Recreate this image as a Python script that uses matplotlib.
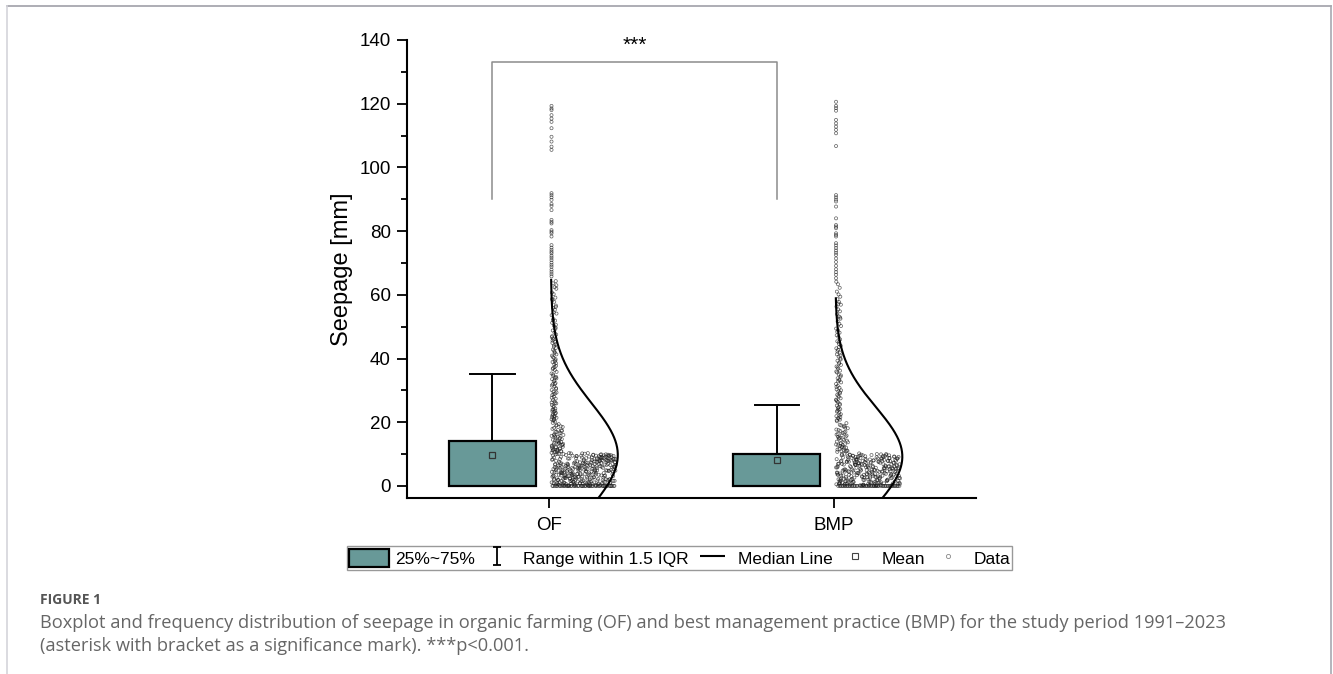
import numpy as np
import matplotlib
matplotlib.use('Agg')
import matplotlib.pyplot as plt
from matplotlib.patches import Patch
from matplotlib.lines import Line2D
from matplotlib.path import Path

# ---- data ----
groups = ['OF', 'BMP']
q1 = [0.0, 0.0]
q3 = [14.2, 10.1]
whisk_lo = [0.0, 0.0]
whisk_hi = [35.2, 25.3]
medians = [0.0, 0.0]
means = [9.7, 8.2]

# fitted normal curve (centre, spread, top end of drawn curve)
curve_mu = [9.7, 9.2]
curve_sd = [16.3, 15.5]
curve_top = [64.7, 58.9]

# individual seepage values (mm)
of_tail = [119.3, 118.5, 118.0, 116.4, 115.3, 114.3, 112.3, 109.6, 108.1, 106.5, 105.5,
           91.9, 91.3, 90.6, 89.8, 88.5, 87.9, 86.6, 83.5, 82.9, 82.4, 80.3, 79.8, 79.3, 78.3,
           75.6, 74.8, 74.1, 73.5, 73.0, 72.2, 71.6, 70.9, 70.1, 69.4, 68.8, 67.9, 67.2, 66.5, 65.8]
of_col = [64.3, 63.6, 62.4, 61.9, 60.7, 60.2, 59.1, 58.3, 57.8, 56.6, 55.9, 55.3, 54.1, 53.6,
          52.4, 51.9, 51.2, 50.3, 49.7, 48.8, 48.1, 47.5, 46.7, 46.0, 45.2, 44.9, 44.1, 43.3,
          42.8, 42.0, 41.3, 40.9, 40.2, 39.4, 38.9, 38.1, 37.7, 37.0, 36.4, 35.8, 35.3, 34.6,
          34.0, 33.5, 32.8, 32.3, 31.9, 31.2, 30.7, 30.1, 29.6, 29.0, 28.5, 28.0, 27.4, 26.9,
          26.5, 25.9, 25.4, 24.8, 24.3, 23.9, 23.3, 22.9, 22.4, 21.8, 21.4, 20.9, 20.5, 20.2,
          47.0, 43.7, 39.8, 36.7, 33.1, 30.4, 27.7, 25.1, 23.6, 22.1, 21.1, 56.2, 52.0, 41.7,
          63.0, 58.7, 54.5, 49.3, 45.6, 42.4, 38.5, 35.0, 32.0, 29.3, 26.2, 24.0, 22.7, 21.6,
          20.7, 44.5, 40.5, 37.3, 34.2, 31.5, 28.8, 26.0, 23.4, 21.9, 50.6, 46.3, 39.1, 33.8]
of_mid = [19.8, 19.1, 18.7, 18.2, 17.6, 17.3, 16.9, 16.4, 16.0, 15.7, 15.2, 14.9, 14.5, 14.1,
          13.8, 13.4, 13.1, 12.8, 12.4, 12.1, 11.8, 11.5, 11.2, 10.9, 10.7, 19.4, 18.5, 17.9,
          17.0, 16.6, 15.9, 15.4, 14.7, 14.3, 13.6, 13.2, 12.6, 12.2, 11.7, 11.3, 11.0, 10.8,
          16.2, 14.0, 12.9, 11.9, 18.9, 15.1, 13.0, 11.4, 17.4, 15.6, 13.5, 12.3, 11.1, 10.6]
of_core = [0.3, 5.2, 8.7, 1.9, 3.4, 9.8, 6.1, 0.8, 2.7, 7.5, 4.4, 10.2, 1.3, 6.8, 3.9, 8.1, 0.5,
           5.7, 9.3, 2.2, 7.0, 4.9, 1.6, 8.9, 3.1, 6.4, 0.9, 9.9, 5.5, 2.8, 7.8, 4.1, 1.1, 6.6,
           10.4, 3.6, 8.4, 0.4, 5.0, 9.1, 2.5, 7.3, 4.7, 1.8, 6.0, 8.6, 3.3, 0.7, 9.6, 5.9, 2.0,
           7.7, 4.3, 1.4, 6.9, 10.0, 3.8, 8.2, 0.6, 5.4, 9.4, 2.9, 7.1, 4.6, 1.2, 6.3, 8.8, 3.0,
           0.2, 9.7, 5.8, 2.4, 7.6, 4.0, 1.7, 6.7, 10.3, 3.5, 8.0, 0.9, 5.3, 9.0, 2.6, 7.4, 4.8,
           1.5, 6.2, 8.5, 3.2, 0.5, 9.5, 5.6, 2.1, 7.9, 4.2, 1.0, 6.5, 9.9, 3.7, 8.3, 0.3, 5.1,
           9.2, 2.3, 7.2, 4.5, 1.9, 6.1, 8.7, 3.4, 0.8, 9.8, 5.7, 2.7, 7.5, 4.4, 1.3, 6.8, 10.1,
           3.9, 8.1, 0.6, 5.2, 9.3, 2.2, 7.0, 4.9, 1.6, 6.4, 8.9, 3.1, 0.4, 9.6, 5.5, 2.8, 7.8,
           4.1, 1.1, 6.6, 10.2, 2.5, 5.9, 8.4, 0.7, 3.6, 7.1, 9.5, 1.8, 4.6, 6.3,
           2.1, 6.7, 9.4, 0.5, 4.2, 7.9, 3.3, 8.6, 1.4, 5.8, 10.0, 2.9, 6.2, 0.9, 4.7, 8.1, 3.8,
           9.7, 1.6, 5.3, 7.4, 0.3, 4.0, 8.9, 2.6, 6.5, 9.2, 1.1, 5.0, 7.7, 3.5, 0.7, 6.0, 9.9,
           2.3, 4.5, 8.4, 1.9, 5.6, 7.1, 3.0, 0.4, 6.9, 9.5, 2.7, 4.8, 8.2, 1.3, 5.1, 7.5, 3.6,
           0.8, 6.3, 10.3, 2.0, 4.3, 8.7, 1.7, 5.9, 7.2, 3.1, 0.2, 6.6, 9.0, 2.4, 4.9, 8.0, 1.0,
           5.4, 7.8, 3.9, 0.6, 6.1, 9.6, 2.8, 4.1, 8.5, 1.5, 5.7, 7.0, 3.4, 0.9, 6.8, 9.3, 2.2,
           4.6, 8.3, 1.2, 5.2, 7.6, 3.7, 0.5, 6.4, 9.8, 2.5, 4.4, 8.8, 1.8, 5.5, 7.3, 3.2, 0.3,
           6.2, 9.1, 2.9, 4.0, 8.6, 1.4, 5.0, 7.9, 3.8, 0.7, 6.7, 10.1, 2.1, 4.7, 8.1, 1.6, 5.8,
           7.4, 3.3, 0.1, 6.5, 9.4, 2.6, 4.2, 8.4, 1.1, 5.3, 7.7, 3.5, 0.8, 6.0, 9.7, 2.3, 4.8,
           8.9, 1.9, 5.6, 7.1]
of_zeros = 50

bmp_tail = [120.6, 119.3, 118.6, 117.8, 114.9, 113.8, 112.8, 111.8, 110.7, 106.7,
            91.3, 90.6, 89.9, 89.3, 87.7, 84.0, 81.9, 81.4, 80.9, 79.3, 78.8, 78.3,
            76.2, 75.5, 74.7, 73.9, 73.2, 72.5, 71.4, 70.3, 69.1, 68.0, 67.1, 66.3, 65.2]
bmp_col = [64.1, 63.3, 62.2, 61.0, 60.1, 59.4, 58.6, 57.7, 56.9, 56.3, 55.4, 54.8, 53.9, 53.2,
           52.5, 51.6, 50.9, 50.2, 49.4, 48.9, 48.1, 47.3, 46.8, 46.0, 45.4, 44.6, 44.0, 43.2,
           42.7, 41.9, 41.3, 40.6, 40.0, 39.3, 38.7, 38.0, 37.5, 36.8, 36.2, 35.6, 35.0, 34.3,
           33.8, 33.1, 32.5, 32.0, 31.4, 30.8, 30.3, 29.7, 29.1, 28.6, 28.0, 27.5, 26.9, 26.3,
           25.8, 25.2, 24.7, 24.1, 23.6, 23.0, 22.5, 21.9, 21.3, 20.8, 20.3,
           45.1, 40.9, 37.2, 33.4, 30.0, 27.1, 24.4, 22.2, 20.6, 57.2, 52.9, 48.4, 43.6, 39.7,
           35.9, 32.8, 29.4, 26.6, 24.0, 21.6, 42.2, 38.4, 34.7, 31.1, 28.3, 25.5, 23.3, 21.1]
bmp_mid = [19.7, 19.2, 18.6, 18.1, 17.7, 17.2, 16.8, 16.3, 15.9, 15.5, 15.0, 14.6, 14.2, 13.9,
           13.5, 13.1, 12.7, 12.3, 12.0, 11.6, 11.3, 11.0, 10.7, 19.0, 18.3, 17.5, 16.6, 15.8,
           15.2, 14.4, 13.7, 13.0, 12.5, 11.9, 11.4, 10.9, 17.0, 14.8, 12.8, 11.1, 16.1, 13.3,
           18.8, 15.4, 12.2, 10.8]
bmp_core = [4.8, 0.6, 7.9, 2.3, 9.6, 5.5, 1.2, 8.3, 3.7, 6.6, 0.2, 9.1, 4.1, 7.2, 2.9, 10.1,
            5.9, 1.7, 8.8, 3.2, 6.1, 0.9, 9.8, 4.5, 7.6, 2.0, 5.2, 8.0, 1.4, 3.9, 6.9, 0.4, 9.4,
            4.3, 7.4, 2.6, 5.7, 8.6, 1.0, 3.5, 6.4, 9.9, 0.7, 4.9, 7.8, 2.2, 5.0, 8.2, 1.6, 3.0,
            6.8, 9.3, 0.3, 4.6, 7.0, 2.7, 5.4, 8.9, 1.9, 3.8, 6.2, 9.7, 0.8, 4.0, 7.5, 2.4, 5.8,
            8.4, 1.1, 3.3, 6.5, 10.0, 0.5, 4.4, 7.3, 2.1, 5.3, 8.7, 1.5, 3.6, 6.0, 9.5, 0.1, 4.7,
            7.7, 2.8, 5.6, 8.1, 1.3, 3.4, 6.7, 9.0, 0.6, 4.2, 7.1, 2.5, 5.1, 8.5, 1.8, 3.1, 6.3,
            9.2, 0.9, 4.8, 7.9, 2.3, 5.9, 8.8, 1.2, 3.7, 6.6, 9.6, 0.4, 4.1, 7.6, 2.9, 5.5, 8.3,
            1.7, 3.2, 6.1, 10.2, 0.2, 4.5, 7.2, 2.0, 5.2, 8.0, 1.4, 3.9, 6.9, 9.4, 0.7, 4.3, 7.8,
            2.6, 5.7, 8.6, 1.0, 3.5, 6.4, 9.8,
            1.3, 5.6, 8.2, 3.0, 6.8, 0.5, 9.1, 4.4, 2.2, 7.5, 9.7, 1.8, 5.0, 3.6, 7.0, 0.2, 8.5,
            4.9, 2.7, 6.2, 9.4, 1.1, 5.3, 3.3, 7.8, 0.8, 8.9, 4.0, 2.4, 6.6, 10.0, 1.6, 5.8, 3.9,
            7.3, 0.4, 8.1, 4.6, 2.0, 6.0, 9.2, 1.4, 5.1, 3.2, 7.6, 0.6, 8.7, 4.2, 2.9, 6.4, 9.9,
            1.9, 5.5, 3.5, 7.1, 0.3, 8.3, 4.7, 2.5, 6.9, 9.5, 1.2, 5.2, 3.8, 7.9, 0.9, 8.0, 4.3,
            2.1, 6.5, 9.0, 1.7, 5.7, 3.1, 7.4, 0.1, 8.6, 4.8, 2.6, 6.1, 9.8, 1.0, 5.4, 3.4, 7.7,
            0.7, 8.4, 4.1, 2.3, 6.7, 9.3, 1.5, 5.9, 3.7, 7.2, 0.5, 8.8, 4.5, 2.8, 6.3, 9.6, 1.3,
            5.0, 3.0, 7.9, 0.2, 8.2, 4.6, 2.4, 6.8, 9.1, 1.8, 5.6, 3.6, 7.0, 0.8]
bmp_zeros = 50

values = [of_tail + of_col + of_mid + of_core + [0.0] * of_zeros,
          bmp_tail + bmp_col + bmp_mid + bmp_core + [0.0] * bmp_zeros]

teal = '#689998'
plt.rcParams['font.family'] = ['Liberation Sans', 'DejaVu Sans']


def halton(n, base):
    out = np.zeros(n)
    for k in range(n):
        f, r, i = 1.0, 0.0, k + 1
        while i > 0:
            f /= base
            r += f * (i % base)
            i //= base
        out[k] = r
    return out


fig = plt.figure(figsize=(13.33, 6.74), dpi=100)
ax = fig.add_axes([0.3053, 0.2611, 0.4269, 0.6796])

pos = np.arange(1, len(groups) + 1)
box_pos = pos - 0.2

stats = []
for i in range(len(groups)):
    stats.append({'q1': q1[i], 'q3': q3[i], 'med': medians[i], 'mean': means[i],
                  'whislo': whisk_lo[i], 'whishi': whisk_hi[i], 'fliers': []})
ax.bxp(stats, positions=box_pos, widths=0.305, capwidths=0.156, showmeans=True,
       patch_artist=True, manage_ticks=False,
       boxprops=dict(facecolor=teal, edgecolor='black', linewidth=1.6),
       whiskerprops=dict(color='black', linewidth=1.4),
       capprops=dict(color='black', linewidth=1.4),
       medianprops=dict(color='black', linewidth=1.4),
       meanprops=dict(marker='s', markerfacecolor='none', markeredgecolor='#333333',
                      markersize=5, markeredgewidth=0.9))

# data points, spread sideways by density band
for i, vals in enumerate(values):
    v = np.array(vals)
    frac = halton(len(v), 3)
    width = np.where(v <= 10.5, 0.226, np.where(v <= 20, 0.042, np.where(v <= 65, 0.018, 0.0)))
    xs = pos[i] + 0.008 + width * frac
    ax.scatter(xs, v, s=5, marker='o', facecolors='none', edgecolors='#1a1a1a',
               linewidths=0.5, alpha=0.7, zorder=3)

    yy = np.linspace(-12, curve_top[i], 300)
    xx = pos[i] + 0.006 + 0.235 * np.exp(-0.5 * ((yy - curve_mu[i]) / curve_sd[i]) ** 2)
    ax.plot(xx, yy, color='black', lw=1.5, zorder=4)

# significance bracket
ax.plot([box_pos[0], box_pos[0], box_pos[1], box_pos[1]], [90, 133, 133, 90],
        color='#8c8c8c', lw=1.1)
ax.text(box_pos.mean(), 138.4, '***', ha='center', va='center', fontsize=15)

ax.set_xlim(0.5, 2.5)
ax.set_ylim(-3.8, 140)
ax.set_xticks(pos)
ax.set_xticklabels(groups, fontsize=13.5)
ax.set_yticks(np.arange(0, 141, 20))
ax.set_yticks(np.arange(10, 140, 20), minor=True)
ax.tick_params(axis='y', labelsize=13.5, length=7.5, width=1.3, pad=4)
ax.tick_params(axis='y', which='minor', length=4.3, width=1.3)
ax.tick_params(axis='x', length=7.5, width=1.3, pad=6)
ax.spines['top'].set_visible(False)
ax.spines['right'].set_visible(False)
ax.spines['left'].set_linewidth(1.5)
ax.spines['bottom'].set_linewidth(1.5)
ax.set_ylabel('Seepage [mm]', fontsize=17)
ax.yaxis.set_label_coords(-0.095, 0.5)

# legend
ibeam = Path([(-0.45, 1), (0.45, 1), (0, 1), (0, -1), (-0.45, -1), (0.45, -1)],
             [Path.MOVETO, Path.LINETO, Path.MOVETO, Path.LINETO, Path.MOVETO, Path.LINETO])
hbar = Path([(-1, 0), (1, 0)], [Path.MOVETO, Path.LINETO])
handles = [Patch(facecolor=teal, edgecolor='black', linewidth=1.6),
           Line2D([], [], ls='none', marker=ibeam, markersize=13, color='black',
                  markeredgewidth=1.3),
           Line2D([], [], ls='none', marker=hbar, markersize=18, color='black',
                  markeredgewidth=1.5),
           Line2D([], [], ls='none', marker='s', markersize=4.5, markerfacecolor='none',
                  markeredgecolor='#444444', markeredgewidth=0.8),
           Line2D([], [], ls='none', marker='o', markersize=3, markerfacecolor='none',
                  markeredgecolor='#888888', markeredgewidth=0.6)]
labels = ['25%~75%', 'Range within 1.5 IQR', 'Median Line', 'Mean', 'Data']
leg = fig.legend(handles, labels, loc='center', bbox_to_anchor=(0.5098, 0.1721), ncol=5,
                 fontsize=12.5, frameon=True, fancybox=False, handlelength=2.3,
                 handleheight=1.3, handletextpad=0.34, columnspacing=0.17, borderpad=0.12,
                 borderaxespad=0)
leg.get_frame().set_edgecolor('#808080')
leg.get_frame().set_linewidth(1.0)

# caption
cap_font = ['Open Sans', 'DejaVu Sans']
fig.text(40 / 1333, 1 - 600 / 674, 'FIGURE 1', fontsize=10, fontweight='bold',
         color='#555555', family=cap_font, va='center')
line1 = fig.text(40 / 1333, 1 - 623 / 674,
                 'Boxplot and frequency distribution of seepage in organic farming (OF) and best '
                 'management practice (BMP) for the study period 1991\u20132023',
                 fontsize=11.5, color='#666666', family=cap_font, va='center')
line2 = fig.text(40 / 1333, 1 - 646 / 674,
                 '(asterisk with bracket as a significance mark). ***p<0.001.',
                 fontsize=11.5, color='#666666', family=cap_font, va='center')
# size caption so the first line runs to the same right edge as the original
renderer = fig.canvas.get_renderer()
w = line1.get_window_extent(renderer).width
size = 11.5 * 1192 / w
line1.set_fontsize(size)
line2.set_fontsize(size)

# page frame lines
fig.add_artist(Line2D([7.5 / 1333, 1330.5 / 1333], [1 - 6 / 674, 1 - 6 / 674],
                      transform=fig.transFigure, color='#a0a0a8', lw=1.2))
fig.add_artist(Line2D([7.5 / 1333, 7.5 / 1333], [0, 1 - 6 / 674],
                      transform=fig.transFigure, color='#d4d4da', lw=1.2))
fig.add_artist(Line2D([1330.5 / 1333, 1330.5 / 1333], [0, 1 - 6 / 674],
                      transform=fig.transFigure, color='#a8a8b0', lw=1.2))

fig.savefig('out.png', dpi=100)
